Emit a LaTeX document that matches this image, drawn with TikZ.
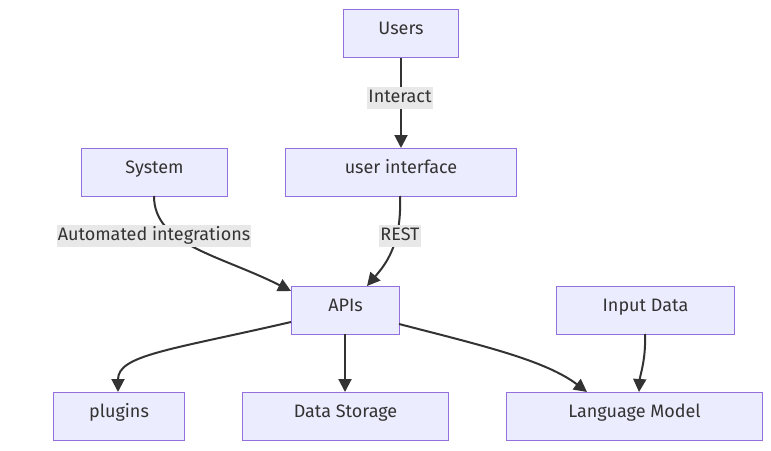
\documentclass[tikz,border=0pt]{standalone}
\usepackage{fontspec}
\setmainfont{Fira Sans}
\usetikzlibrary{arrows.meta}
\definecolor{boxfill}{HTML}{ECECFF}
\definecolor{boxline}{HTML}{9370DB}
\definecolor{edge}{HTML}{333333}
\definecolor{lblbg}{HTML}{E8E8E8}
\begin{document}
\begin{tikzpicture}[x=1pt,y=-1pt,
  every node/.style={font=\fontsize{18}{21}\selectfont, text=edge},
  box/.style={draw=boxline, fill=boxfill, line width=1pt, minimum height=48pt, inner sep=0pt, anchor=north west, text height=13pt, text depth=12pt},
  lbl/.style={fill=lblbg, inner xsep=1pt, inner ysep=0pt, text height=15pt, text depth=7pt},
  conn/.style={draw=edge, line width=2pt, -{Triangle[length=13pt,width=13pt]}}]
\useasboundingbox (0,0) rectangle (771,450);
\node[box, minimum width=115pt] (users) at (343,9) {Users};
\node[box, minimum width=231pt] (ui) at (285,148) {user interface};
\node[box, minimum width=146pt] (sys) at (81,148) {System};
\node[box, minimum width=108pt] (api) at (291,286) {APIs};
\node[box, minimum width=178pt] (inp) at (556,286) {Input Data};
\node[box, minimum width=131pt] (plug) at (53,392) {plugins};
\node[box, minimum width=206pt] (store) at (242,392) {Data Storage};
\node[box, minimum width=256pt] (lm) at (506,392) {Language Model};
\coordinate (apiL) at (291,291);
\coordinate (apiR) at (367,286);
\coordinate (apiW) at (291,322);
\coordinate (apiE) at (399,324);
\coordinate (plugN) at (118,392);
\coordinate (lmN1) at (587,392);
\coordinate (lmN2) at (639,392);
\coordinate (inpS) at (645,334);
\coordinate (storeN) at (345,392);
\coordinate (apiS) at (345,334);
\coordinate (uiS) at (400,196);
\coordinate (sysS) at (154,196);
\draw[conn] (users) -- (ui);
\draw[conn] (sysS) .. controls (154,245) and (220,255) .. (apiL);
\draw[conn] (uiS) .. controls (402,245) and (385,265) .. (apiR);
\draw[conn] (apiW) .. controls (170,350) and (118,355) .. (plugN);
\draw[conn] (apiS) -- (storeN);
\draw[conn] (apiE) .. controls (480,345) and (545,360) .. (lmN1);
\draw[conn] (inpS) .. controls (646,360) and (640,375) .. (lmN2);
\node[lbl] (l1) at (400,98) {Interact};
\node[lbl] (l2) at (154,236) {Automated integrations};
\node[lbl] (l3) at (400,236) {REST};
\end{tikzpicture}
\end{document}
